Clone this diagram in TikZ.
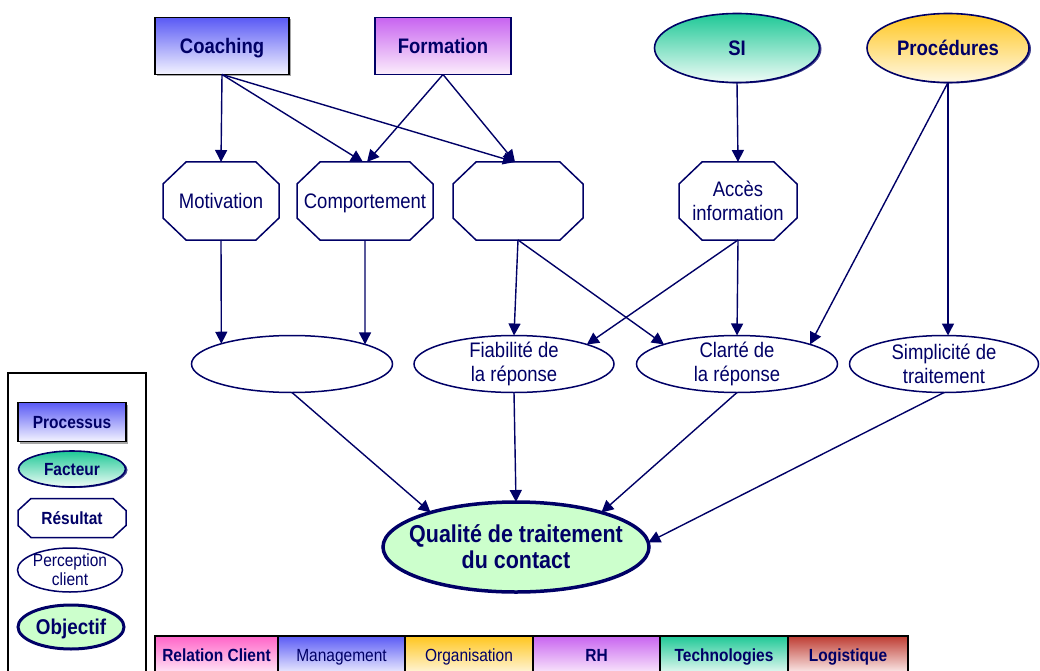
\documentclass[tikz,border=0pt]{standalone}
\usepackage{fontspec}
\setmainfont{Liberation Sans}[FakeStretch=0.88]
\usetikzlibrary{shapes.geometric,arrows.meta,shadows}
\definecolor{navy}{RGB}{0,0,102}
\definecolor{blueT}{RGB}{90,90,245}
\definecolor{blueB}{RGB}{244,244,255}
\definecolor{purT}{RGB}{200,100,240}
\definecolor{purB}{RGB}{252,238,252}
\definecolor{grnT}{RGB}{30,200,150}
\definecolor{grnB}{RGB}{240,252,247}
\definecolor{orT}{RGB}{255,198,30}
\definecolor{orB}{RGB}{255,248,228}
\definecolor{pinkT}{RGB}{255,100,200}
\definecolor{pinkB}{RGB}{255,236,248}
\definecolor{redT}{RGB}{190,60,50}
\definecolor{redB}{RGB}{255,245,245}
\definecolor{objfill}{RGB}{204,255,204}
\tikzset{
  base/.style={inner sep=0pt, outer sep=0pt, text=navy, align=center},
  onelineB/.style={text height=15pt, text depth=0pt},
  onelineS/.style={text height=12.6pt, text depth=0pt},
  big/.style={font=\fontsize{21}{24}\selectfont},
  bigb/.style={font=\fontsize{21}{24}\selectfont\bfseries},
  small/.style={font=\fontsize{17.6}{19}\selectfont},
  smallb/.style={font=\fontsize{17.6}{19}\selectfont\bfseries},
  arr/.style={draw=navy, line width=1.4pt, -{Triangle[length=12pt,width=12pt]}},
  procbox/.style={base, rectangle, draw=black, line width=1.8pt, top color=blueT, bottom color=blueB,
     drop shadow={shadow xshift=2pt, shadow yshift=-2pt, fill=gray!70, opacity=1}},
  formbox/.style={base, rectangle, draw=navy, line width=1.6pt, top color=purT, bottom color=purB},
  factell/.style={base, ellipse, draw=navy, line width=1.6pt,
     drop shadow={shadow xshift=2pt, shadow yshift=-1pt, fill=navy!75, opacity=1}},
  octbox/.style={base, rectangle},
  octline/.style={draw=navy, line width=1.5pt},
  pell/.style={base, ellipse, draw=navy, line width=1.5pt, minimum width=201pt, minimum height=57pt},
  objell/.style={base, ellipse, draw=navy, line width=3.5pt, fill=objfill},
  legframe/.style={draw=black, line width=1.5pt},
  barcell/.style={base, onelineS, rectangle, draw=black, line width=1.5pt, minimum height=39pt}
}
\begin{document}
\begin{tikzpicture}[x=1pt,y=-1pt]
\useasboundingbox (0,0) rectangle (1040,671);

% ---- top row
\node[procbox, onelineB, bigb, minimum width=134pt, minimum height=57pt] (coach) at (222,46) {Coaching};
\node[formbox, onelineB, bigb, minimum width=136pt, minimum height=57pt] (form) at (443,46) {Formation};
\node[factell, onelineB, bigb, top color=grnT, bottom color=grnB, minimum width=165pt, minimum height=69pt] (si) at (737,48) {SI};
\node[factell, onelineB, bigb, top color=orT, bottom color=orB, minimum width=162pt, minimum height=69pt] (proc) at (948,48) {Procédures};

% ---- octagons
\node[octbox, onelineB, big, minimum width=116pt, minimum height=78pt] (mot) at (221,201) {Motivation};
\node[octbox, onelineB, big, minimum width=136pt, minimum height=78pt] (comp) at (365,201) {Comportement};
\node[octbox, big, minimum width=130pt, minimum height=78pt] (vide) at (518,201) {};
\node[octbox, big, minimum width=118pt, minimum height=78pt] (acces) at (738,201) {Accès\\information};
\foreach \n in {mot,comp,vide,acces}{
  \draw[octline] ([xshift=23pt]\n.north west) -- ([xshift=-23pt]\n.north east)
    -- ([yshift=-22pt]\n.north east) -- ([yshift=22pt]\n.south east)
    -- ([xshift=-23pt]\n.south east) -- ([xshift=23pt]\n.south west)
    -- ([yshift=22pt]\n.south west) -- ([yshift=-22pt]\n.north west) -- cycle;
}

% ---- perception ellipses
\node[pell] (e1) at (292,364) {};
\node[pell, minimum width=200pt] (fiab) at (514,364) {};
\node[base, big] at (fiab) {Fiabilité de\\la réponse};
\node[pell] (clar) at (737,364) {};
\node[base, big] at (clar) {Clarté de\\la réponse};
\node[pell, minimum width=189pt] (simp) at (944,364) {};
\node[base, big] at (simp) {Simplicité de\\traitement};

% ---- objective
\node[objell, minimum width=266pt, minimum height=90pt] (qual) at (516,547) {};
\node[base, font=\fontsize{24.4}{26}\selectfont\bfseries] at (qual) {Qualité de traitement\\du contact};

% ---- connectors
\draw[arr] (coach.south) -- (mot.north);
\draw[arr] (coach.south) -- ([xshift=-2pt]comp.north);
\draw[arr] (coach.south) -- ([xshift=-3pt]vide.north);
\draw[arr] (form.south) -- ([xshift=2pt]comp.north);
\draw[arr] (form.south) -- ([xshift=-3pt]vide.north);
\draw[arr] (si.south) -- (acces.north);
\draw[arr] (proc.south) -- (clar.15);
\draw[arr] (proc.south) -- (proc.south |- simp.north);
\draw[arr] (mot.south) -- (e1.164);
\draw[arr] (comp.south) -- (e1.15);
\draw[arr] (vide.south) -- (fiab.north);
\draw[arr] (vide.south) -- (clar.165);
\draw[arr] (acces.south) -- (fiab.15);
\draw[arr] (acces.south) -- (clar.north);
\draw[arr] (e1.south) -- (qual.158);
\draw[arr] (fiab.south) -- (qual.north);
\draw[arr] (clar.south) -- (qual.22);
\draw[arr] (simp.south) -- (qual.2);

% ---- legend
\draw[legframe] (8,373) rectangle (146,676);
\node[procbox, onelineS, smallb, minimum width=108pt, minimum height=39pt] (lproc) at (72,422) {Processus};
\node[factell, onelineS, smallb, top color=grnT, bottom color=grnB, minimum width=107pt, minimum height=36pt] (lfact) at (72,469) {Facteur};
\node[octbox, onelineS, smallb, minimum width=108pt, minimum height=39pt] (lres) at (72,518) {Résultat};
\draw[octline] ([xshift=13pt]lres.north west) -- ([xshift=-13pt]lres.north east)
    -- ([yshift=-12pt]lres.north east) -- ([yshift=12pt]lres.south east)
    -- ([xshift=-13pt]lres.south east) -- ([xshift=13pt]lres.south west)
    -- ([yshift=12pt]lres.south west) -- ([yshift=-12pt]lres.north west) -- cycle;
\node[pell, minimum width=105pt, minimum height=44pt] (lperc) at (70,570) {};
\node[base, small] at (lperc) {Perception\\client};
\node[objell, text height=15.3pt, text depth=0pt, line width=3pt, font=\fontsize{21.4}{22}\selectfont\bfseries, minimum width=106pt, minimum height=44pt] (lobj) at (71,627) {Objectif};

% ---- bottom bar
\node[barcell, smallb, minimum width=123pt, top color=pinkT, bottom color=pinkB] (b1) at (216.5,655.5) {Relation Client};
\node[barcell, small, minimum width=127pt, top color=blueT, bottom color=blueB] (b2) at (341.5,655.5) {Management};
\node[barcell, small, minimum width=128pt, top color=orT, bottom color=orB] (b3) at (469,655.5) {Organisation};
\node[barcell, smallb, minimum width=127pt, top color=purT, bottom color=purB] (b4) at (596.5,655.5) {RH};
\node[barcell, smallb, minimum width=128pt, top color=grnT, bottom color=grnB] (b5) at (724,655.5) {Technologies};
\node[barcell, smallb, minimum width=120pt, top color=redT, bottom color=redB] (b6) at (848,655.5) {Logistique};
\end{tikzpicture}
\end{document}
